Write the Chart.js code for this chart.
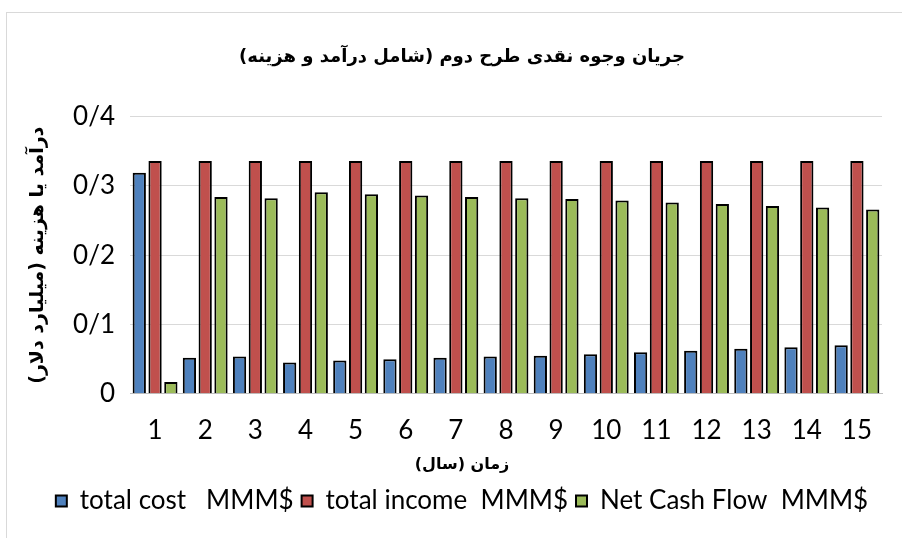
<!DOCTYPE html>
<html>
<head>
<meta charset="utf-8">
<script src="https://cdn.jsdelivr.net/npm/chart.js@4.4.1/dist/chart.umd.min.js"></script>
<style>
  html, body { margin: 0; padding: 0; background: #ffffff; overflow: hidden; width: 902px; height: 538px; }
  #frame { position: absolute; left: 6px; top: 12px; width: 940px; height: 600px; border: 1px solid #d9d9d9; box-sizing: border-box; }
  #c { position: absolute; left: 0; top: 0; }
</style>
</head>
<body>
<div id="frame"></div>
<canvas id="c" width="902" height="538"></canvas>
<script>
// ---- data ----
const years = ['1','2','3','4','5','6','7','8','9','10','11','12','13','14','15'];
const totalCost = [0.319, 0.052, 0.054, 0.045, 0.048, 0.050, 0.052, 0.054, 0.055, 0.057, 0.060, 0.062, 0.065, 0.067, 0.070];
const totalIncome = [0.336, 0.336, 0.336, 0.336, 0.336, 0.336, 0.336, 0.336, 0.336, 0.336, 0.336, 0.336, 0.336, 0.336, 0.336];
const netCashFlow = [0.017, 0.284, 0.282, 0.291, 0.288, 0.286, 0.284, 0.282, 0.281, 0.279, 0.276, 0.274, 0.271, 0.269, 0.266];
const yTickLabels = ['0', '0/1', '0/2', '0/3', '0/4'];
const seriesNames = ['total cost   MMM$', 'total income  MMM$', 'Net Cash Flow  MMM$'];
const chartTitle = 'جریان وجوه نقدی طرح دوم (شامل درآمد و هزینه)\u200F';
const xTitle = 'زمان (سال)\u200F';
const yTitle = 'درآمد یا هزینه (میلیارد دلار)\u200F';

const latin = "Lato, 'Open Sans', 'Liberation Sans', sans-serif";
const persian = "'DejaVu Sans', sans-serif";

const common = { borderColor: '#000000', borderWidth: 2, categoryPercentage: 0.945, barPercentage: 0.84 };

new Chart(document.getElementById('c'), {
  type: 'bar',
  data: {
    labels: years,
    datasets: [
      Object.assign({ label: seriesNames[0], data: totalCost, backgroundColor: '#4f81bd' }, common),
      Object.assign({ label: seriesNames[1], data: totalIncome, backgroundColor: '#c0504d' }, common),
      Object.assign({ label: seriesNames[2], data: netCashFlow, backgroundColor: '#9bbb59' }, common)
    ]
  },
  options: {
    responsive: false,
    animation: false,
    devicePixelRatio: 1,
    layout: { padding: { left: 42, right: 20, top: 0, bottom: 14 } },
    plugins: {
      tooltip: { enabled: false },
      title: {
        display: true,
        text: chartTitle,
        color: '#000000',
        font: { family: persian, size: 18, weight: 'bold' },
        padding: { top: 47, bottom: 48 }
      },
      subtitle: {
        display: true,
        position: 'bottom',
        text: xTitle,
        color: '#000000',
        font: { family: persian, size: 16, weight: 'bold' },
        padding: { top: 9, bottom: 6 }
      },
      legend: {
        position: 'bottom',
        weight: 2000,
        labels: {
          color: '#000000',
          font: { family: latin, size: 26 },
          boxWidth: 11,
          boxHeight: 11,
          padding: 8
        }
      }
    },
    scales: {
      x: {
        afterFit: (scale) => { scale.height = 52; },
        grid: { display: false, drawTicks: false },
        border: { display: true, color: '#bfbfbf', width: 1 },
        ticks: { color: '#000000', font: { family: latin, size: 26 }, padding: 21, maxRotation: 0 }
      },
      y: {
        min: 0,
        max: 0.4,
        afterFit: (scale) => { scale.width = 88; },
        grid: { color: '#d9d9d9', lineWidth: 1, drawTicks: false },
        border: { display: false },
        ticks: {
          stepSize: 0.1,
          color: '#000000',
          font: { family: latin, size: 26 },
          padding: 15,
          callback: (v, i) => yTickLabels[i]
        },
        title: {
          display: true,
          text: yTitle,
          color: '#000000',
          font: { family: persian, size: 19, weight: 'bold' },
          padding: { top: -15, bottom: 0 }
        }
      }
    }
  }
});
</script>
</body>
</html>
